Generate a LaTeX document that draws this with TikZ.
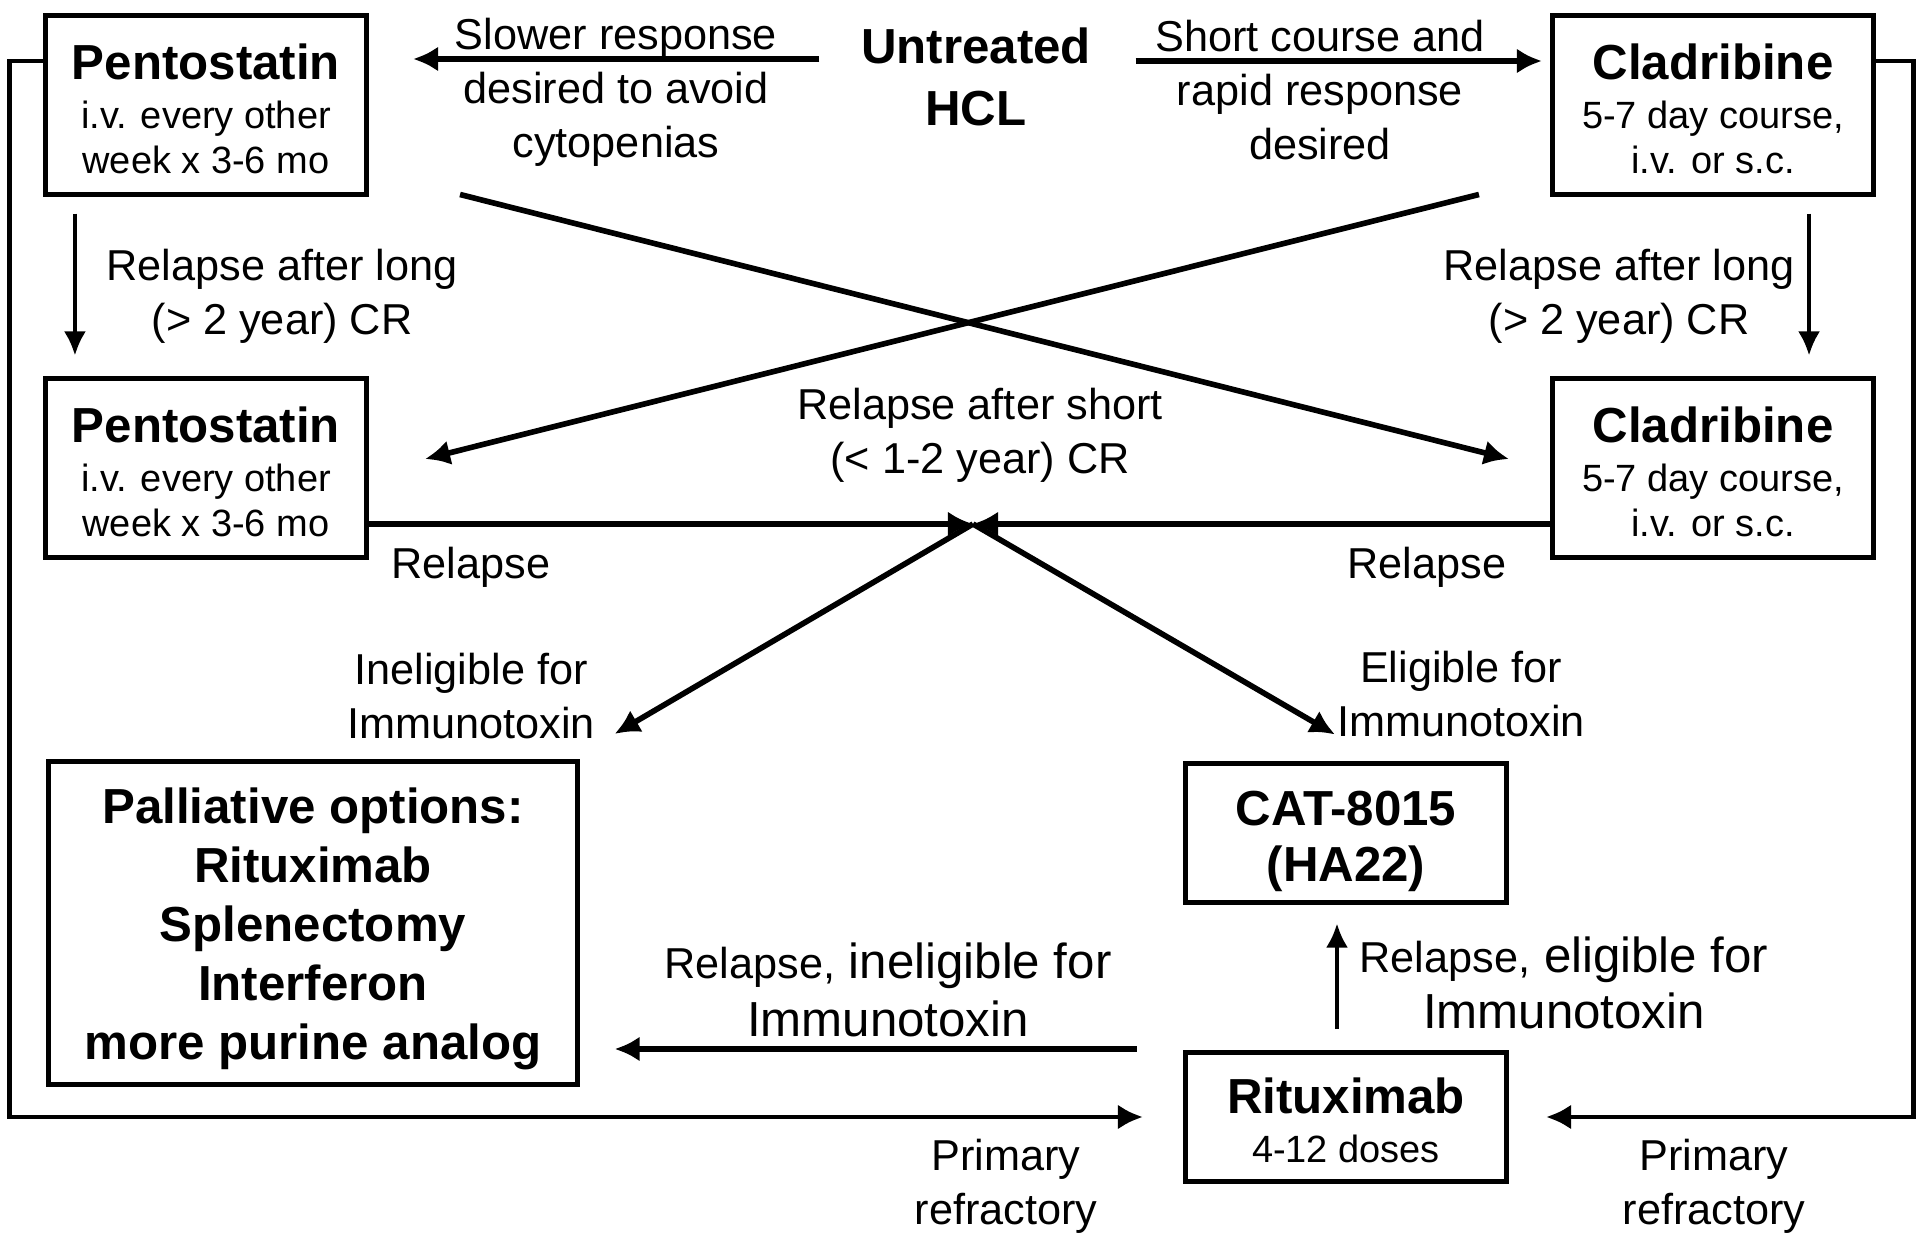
\documentclass[tikz,border=0pt]{standalone}
\usepackage{fontspec}
\setmainfont{Liberation Sans}
\usetikzlibrary{positioning,calc,arrows.meta}

\newcommand{\boxhead}[1]{{\fontsize{14}{16.8}\selectfont\bfseries #1}}
\newcommand{\ustrut}[1]{\rule{0pt}{#1}}

\begin{document}
\begin{tikzpicture}[
    x=0.01cm, y=-0.01cm,
    block/.style={rectangle, draw, line width=1.4pt, align=center, inner sep=0pt, minimum width=3.21cm, font=\fontsize{10.8}{12.8}\selectfont},
    txt/.style={align=center, inner sep=0pt, font=\fontsize{12.3}{15.4}\selectfont},
    arrow/.style={-{Latex[length=2.5mm, width=2.5mm]}, line width=1.6pt},
    thinarrow/.style={-{Latex[length=2.4mm, width=2.2mm]}, line width=1.1pt},
    backline/.style={-{Latex[length=2.5mm, width=2.5mm]}, line width=1.4pt}
]
    \useasboundingbox (0,0) rectangle (1920,1243);

    % treatment boxes
    \node[txt, font=\fontsize{14}{17.4}\selectfont\bfseries] (untreated) at (976,77) {Untreated\\HCL};
    \node[block, minimum height=1.78cm] (pentA) at (206,105) {\ustrut{12.3pt}\boxhead{Pentostatin}\\[1.2pt] i.v. every other\\ week x 3-6 mo};
    \node[block, minimum height=1.78cm] (cladA) at (1713,105) {\ustrut{12.3pt}\boxhead{Cladribine}\\[1.2pt] 5-7 day course,\\ i.v. or s.c.};
    \node[block, minimum height=1.78cm] (pentB) at (206,468) {\ustrut{12.3pt}\boxhead{Pentostatin}\\[1.2pt] i.v. every other\\ week x 3-6 mo};
    \node[block, minimum height=1.78cm] (cladB) at (1713,468) {\ustrut{12.3pt}\boxhead{Cladribine}\\[1.2pt] 5-7 day course,\\ i.v. or s.c.};
    \node[block, minimum width=5.28cm, minimum height=3.23cm, font=\fontsize{14}{16.8}\selectfont\bfseries] (palliative) at (313,923) {\ustrut{13.6pt}Palliative options:\\ Rituximab\\ Splenectomy\\ Interferon\\ more purine analog};
    \node[block, minimum height=1.38cm, font=\fontsize{14}{15.9}\selectfont\bfseries] (cat) at (1346,833) {\ustrut{14.4pt}CAT-8015\\ (HA22)};
    \node[block, minimum height=1.29cm] (ritux) at (1346,1117) {\ustrut{11.9pt}\boxhead{Rituximab}\\[1.2pt] 4-12 doses};

    % labels
    \node[txt] (slower) at (616,92) {Slower response\\ desired to avoid\\ cytopenias};
    \node[txt] (shortc) at (1320,90) {Short course and\\ rapid response\\ desired};
    \node[txt] (longL) at (282,296) {Relapse after long\\ (> 2 year) CR};
    \node[txt] (longR) at (1619,296) {Relapse after long\\ (> 2 year) CR};
    \node[txt] (shortcr) at (980,435) {Relapse after short\\ (< 1-2 year) CR};
    \node[txt] (relL) at (471,567) {Relapse};
    \node[txt] (relR) at (1427,567) {Relapse};
    \node[txt] (inelig) at (471,696) {Ineligible for\\ Immunotoxin};
    \node[txt] (elig) at (1461,694) {Eligible for\\ Immunotoxin};
    \node[txt, font=\fontsize{14}{16.5}\selectfont] (relinelig) at (888,990) {{\fontsize{12.3}{16.5}\selectfont Relapse,} ineligible for\\ Immunotoxin};
    \node[txt, font=\fontsize{14}{16}\selectfont] (relelig) at (1564,983) {{\fontsize{12.3}{16}\selectfont Relapse,} eligible for\\ Immunotoxin};
    \node[txt] (primL) at (1006,1186) {Primary\\ refractory};
    \node[txt] (primR) at (1714,1186) {Primary\\ refractory};

    % first line choice
    \draw[arrow] ($(untreated.west)+(-41,-18)$) -- ($(pentA.east)+(44,-46)$);
    \draw[arrow] ($(untreated.east)+(44,-16)$) -- ($(cladA.west)+(-8,-44)$);

    % relapse after long CR
    \draw[thinarrow] ($(pentA.south west)+(32,17)$) -- ($(pentB.north west)+(32,-21)$);
    \draw[thinarrow] ($(cladA.south east)+(-67,17)$) -- ($(cladB.north east)+(-67,-21)$);

    % relapse after short CR
    \draw[arrow] ($(pentA.south east)+(91,-2)$) -- ($(cladB.west)+(-41,-9)$);
    \draw[arrow] ($(cladA.south west)+(-71,-2)$) -- ($(pentB.east)+(56,-9)$);

    \coordinate (meet) at (973,524);
    \draw[arrow] ($(pentB.east)+(0,56)$) -- (meet);
    \draw[arrow] ($(cladB.west)+(0,56)$) -- (meet);
    \draw[arrow] (meet) -- ($(palliative.north east)+(35,-25)$);
    \draw[arrow] (meet) -- ($(cat.north)+(-11,-27)$);

    \draw[thinarrow] ($(ritux.north)+(-9,-21)$) -- ($(cat.south)+(-9,19)$);
    \draw[arrow] ($(ritux.west)+(-46,-68)$) -- ($(palliative.east)+(35,126)$);

    % primary refractory
    \draw[backline] ($(pentA.west)+(0,-44)$) -- ++(-33,0) |- ($(ritux.west)+(-40,0)$);
    \draw[backline] ($(cladA.east)+(0,-44)$) -- ++(37,0) |- ($(ritux.east)+(37,0)$);
\end{tikzpicture}
\end{document}
